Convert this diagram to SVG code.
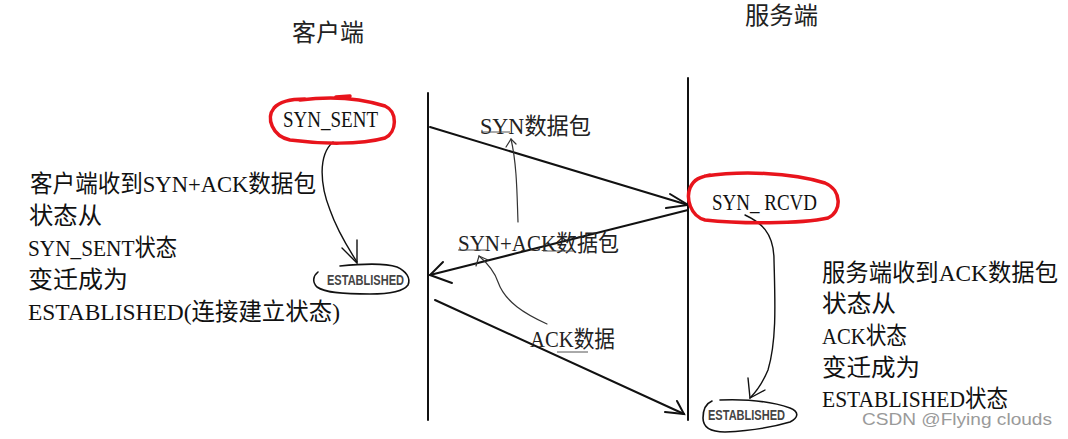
<svg xmlns="http://www.w3.org/2000/svg" width="1068" height="439" viewBox="0 0 1068 439">
<style>
.t{font-family:"Liberation Serif","Noto Sans CJK SC",serif;font-size:24px;fill:#111}
.h{font-family:"Liberation Serif","Noto Sans CJK SC",sans-serif;font-size:24px;fill:#222}
.lbl{font-family:"Liberation Serif","Noto Sans CJK SC",serif;font-size:23px;fill:#222}
.est{font-family:"Liberation Sans",sans-serif;font-weight:bold;font-size:14px;fill:#444}
.line{stroke:#111;stroke-width:2;fill:none;stroke-linecap:round}
.thin{stroke:#333;stroke-width:1.2;fill:none;stroke-linecap:round}
.red{stroke:#e8141c;stroke-width:3.5;fill:none;stroke-linecap:round}
.blob{stroke:#111;stroke-width:1.6;fill:none;stroke-linecap:round}
.ul{stroke:#555;stroke-width:1;fill:none}
</style>
<rect width="1068" height="439" fill="#fff"/>

<g id="header-client"><text class="h" x="292" y="41" textLength="72" lengthAdjust="spacingAndGlyphs">客户端</text></g>
<g id="header-server"><text class="h" x="745" y="24" textLength="73" lengthAdjust="spacingAndGlyphs">服务端</text></g>

<g id="lifelines">
<line class="line" x1="428" y1="93" x2="428" y2="420"/>
<line class="line" x1="688" y1="78" x2="688" y2="420"/>
</g>

<g id="connectors">
<line class="line" x1="430" y1="127" x2="688" y2="205"/>
<polyline class="line" points="670,194 688,205 666,208"/>
<line class="line" x1="688" y1="210" x2="430" y2="275"/>
<polyline class="line" points="443,262 430,275 452,283"/>
<line class="line" x1="435" y1="300" x2="684" y2="414"/>
<polyline class="line" points="677,401 684,414 665,412"/>
<path class="thin" d="M518,222 C517,195 517,165 511,139"/>
<polyline class="thin" points="506,147 511,139 516,144"/>
<path class="thin" d="M547,324 C525,314 505,302 498,282 C494,270 486,262 479,256"/>
<polyline class="thin" points="476,266 479,256 488,260"/>
<path class="line" style="stroke-width:1.4" d="M333,142 C318,155 320,185 330,210 C337,230 348,248 357,262"/>
<polyline class="line" style="stroke-width:1.4" points="342,248 357,263 357,240"/>
<path class="line" style="stroke-width:1.4" d="M745,215 C760,222 774,232 774,260 C775,300 777,340 768,370 C763,382 756,392 750,398"/>
<polyline class="line" style="stroke-width:1.4" points="748,378 750,398 765,390"/>
</g>

<g id="syn-sent">
<path class="red" d="M300,100 C330,96 360,98 385,106 C398,112 397,132 385,138 C360,145 320,144 290,140 C272,136 266,118 274,108 C280,101 292,99 305,99 M336,97 L350,96"/>
<text class="t" x="283" y="127" textLength="95" lengthAdjust="spacingAndGlyphs">SYN_SENT</text>
</g>

<g id="syn-rcvd">
<path class="red" d="M705,176 C740,171 790,172 825,183 C842,190 842,212 828,218 C800,224 740,224 705,220 C690,216 686,198 690,188 C694,179 700,177 710,175"/>
<text class="t" x="712" y="210" textLength="105" lengthAdjust="spacingAndGlyphs">SYN_ RCVD</text>
</g>

<g id="established-client">
<path class="blob" d="M340,266 C360,264 385,263 397,267 C406,271 411,278 408,285 C403,292 390,294 370,294 C345,294 325,293 317,287 C312,282 313,276 318,272"/>
<text class="est" x="327" y="285" textLength="77" lengthAdjust="spacingAndGlyphs">ESTABLISHED</text>
</g>

<g id="established-server">
<path class="blob" d="M720,400 C745,399 770,401 790,408 C800,412 798,418 790,422 C770,428 745,431 725,432 C710,432 703,427 703,418 C703,410 705,404 712,401"/>
<text class="est" x="708" y="420" textLength="77" lengthAdjust="spacingAndGlyphs">ESTABLISHED</text>
</g>

<g id="label-syn">
<text class="lbl" x="480" y="134" textLength="111" lengthAdjust="spacingAndGlyphs">SYN数据包</text>
<line class="ul" x1="481" y1="132" x2="510" y2="132"/>
</g>
<g id="label-synack">
<text class="lbl" x="458" y="251" textLength="161" lengthAdjust="spacingAndGlyphs">SYN+ACK数据包</text>
<line class="ul" x1="458" y1="250" x2="487" y2="250"/>
<line class="ul" x1="543" y1="251" x2="573" y2="251"/>
</g>
<g id="label-ack">
<text class="lbl" x="530" y="347" textLength="85" lengthAdjust="spacingAndGlyphs">ACK数据</text>
<line class="ul" x1="557" y1="352" x2="588" y2="352"/>
</g>

<g id="client-note">
<text class="t" x="30" y="192" textLength="286" lengthAdjust="spacingAndGlyphs">客户端收到SYN+ACK数据包</text>
<text class="t" x="29" y="224" textLength="73" lengthAdjust="spacingAndGlyphs">状态从</text>
<text class="t" x="28" y="256" textLength="149" lengthAdjust="spacingAndGlyphs">SYN_SENT状态</text>
<text class="t" x="28" y="288" textLength="100" lengthAdjust="spacingAndGlyphs">变迁成为</text>
<text class="t" x="28" y="320" textLength="312" lengthAdjust="spacingAndGlyphs">ESTABLISHED(连接建立状态)</text>
</g>

<g id="server-note">
<text class="t" x="822" y="281" textLength="236" lengthAdjust="spacingAndGlyphs">服务端收到ACK数据包</text>
<text class="t" x="822" y="312" textLength="74" lengthAdjust="spacingAndGlyphs">状态从</text>
<text class="t" x="822" y="344" textLength="85" lengthAdjust="spacingAndGlyphs">ACK状态</text>
<text class="t" x="822" y="376" textLength="98" lengthAdjust="spacingAndGlyphs">变迁成为</text>
<text class="t" x="822" y="407" textLength="186" lengthAdjust="spacingAndGlyphs">ESTABLISHED状态</text>
</g>

<g id="watermark">
<text x="862" y="425" font-family="Liberation Sans, sans-serif" font-size="17" fill="#9a9a9a" textLength="190" lengthAdjust="spacingAndGlyphs">CSDN @Flying  clouds</text>
</g>
</svg>
